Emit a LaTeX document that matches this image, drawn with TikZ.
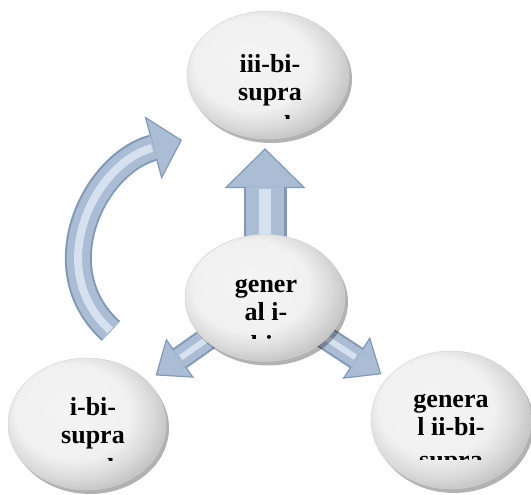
\documentclass[tikz,border=0pt]{standalone}
\usepackage{fontspec}
\setmainfont{Liberation Serif}
\usetikzlibrary{arrows.meta,
                shapes.geometric,
                shadows,
                backgrounds}

\definecolor{arrowblue}{HTML}{AABDD5}
\definecolor{arrowdark}{HTML}{8299B6}
\definecolor{arrowshine}{HTML}{D6E1EF}
\newcommand{\bubblefont}{\fontsize{26}{28}\selectfont\bfseries}

\pgfdeclareradialshading{bubbleshade}{\pgfpoint{-7bp}{7bp}}{%
  color(0bp)=(gray!9); color(18bp)=(gray!11); color(24bp)=(gray!28);
  color(30bp)=(gray!50); color(50bp)=(gray!50)}

\tikzset{
  bubble/.style={ellipse, inner sep=0pt, shading=bubbleshade,
                 draw=gray!35, line width=.4pt,
                 drop shadow={shadow xshift=3pt, shadow yshift=-4pt,
                              opacity=.3, fill=black}},
  bubble text/.style={font=\bubblefont, align=center, inner sep=0pt, anchor=north},
  block/.style={draw=arrowdark, line width=#1},
  body/.style={draw=arrowblue, line width=#1, line cap=butt},
  shine/.style={draw=arrowshine, line width=#1, line cap=butt},
  head/.style={-{Triangle[#1, fill=arrowblue, color=arrowdark, line width=1.2pt]}},
}

\begin{document}
\begin{tikzpicture}[x=1pt,y=1pt]
 \useasboundingbox (0,0) rectangle (531,495);

 % the four bubbles
 \node[bubble, minimum width=162pt, minimum height=128pt] (top)   at (268,420) {};
 \node[bubble, minimum width=160pt, minimum height=127pt] (mid)   at (265,197) {};
 \node[bubble, minimum width=158pt, minimum height=132pt] (left)  at (87,71)   {};
 \node[bubble, minimum width=160pt, minimum height=138pt] (right) at (451,75)  {};
 \coordinate (loop start) at ([xshift=24pt, yshift=93pt]left.center);
 \coordinate (loop tip)   at ([xshift=-86pt, yshift=-65pt]top.center);

 % labels, cut off at the bottom of each text box
 \foreach \n/\dx/\dy/\cut/\txt in {
   top/2/22.6/-44/{iii-bi-\strut\\supra\strut\\[5pt]real\strut},
   mid/1/25.6/-41/{gener\strut\\al i-\strut\\[5pt]bi-\strut},
   left/6/28.6/-37/{i-bi-\strut\\supra\strut\\[5pt]real\strut},
   right/0/32.6/-40/{genera\strut\\l ii-bi-\strut\\[5pt]supra\strut}}
 {
   \begin{scope}
     \clip ([xshift=-78pt, yshift=\cut pt]\n.center) rectangle ([xshift=78pt, yshift=60pt]\n.center);
     \node[bubble text] (\n text) at ([xshift=\dx pt, yshift=\dy pt]\n.center) {\txt};
   \end{scope}
 }

 % block arrows, kept under the bubbles
 \begin{scope}[on background layer]
   % up
   \draw[block=43pt, head={length=40pt, width=81pt}, shorten >=9pt]
     (mid.center) -- (mid.center |- top.south);
   \draw[body=38pt, shorten >=48pt] (mid.center) -- (mid.center |- top.south);
   \draw[shine=12pt, shorten >=50pt] (mid.center) -- (mid.center |- top.south);

   % down to the sides
   \draw[block=24pt, head={length=30pt, width=48pt}, shorten >=10pt] (mid.center) -- (left);
   \draw[body=20pt, shorten >=39pt] (mid.center) -- (left);
   \draw[shine=6pt, shorten >=41pt] (mid.center) -- (left);
   \draw[block=24pt, head={length=30pt, width=50pt}, shorten >=7pt] (mid.center) -- (right);
   \draw[body=20pt, shorten >=36pt] (mid.center) -- (right);
   \draw[shine=6pt, shorten >=38pt] (mid.center) -- (right);

   % round the left side
   \draw[block=27pt, head={length=30pt, width=65pt}]
     (loop start) to[out=138, in=195, looseness=1.15] (loop tip);
   \draw[body=23pt, shorten >=29pt]
     (loop start) to[out=138, in=195, looseness=1.15] (loop tip);
   \draw[shine=8pt, shorten <=1pt, shorten >=31pt]
     (loop start) to[out=138, in=195, looseness=1.15] (loop tip);
 \end{scope}
\end{tikzpicture}
\end{document}
